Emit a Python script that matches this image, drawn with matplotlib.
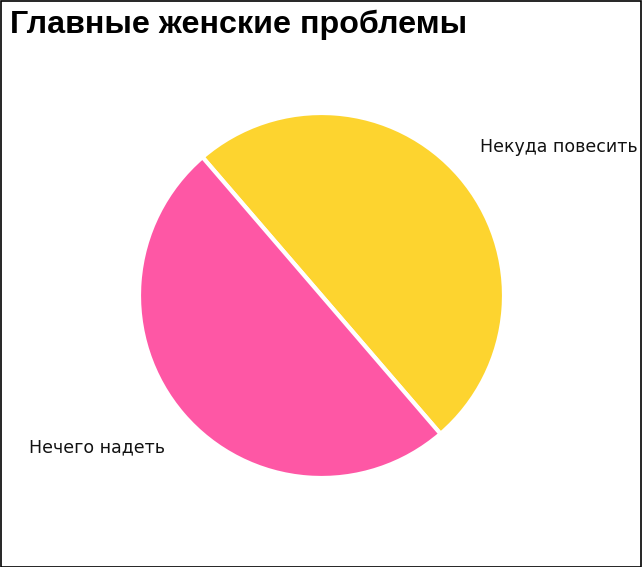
import matplotlib
matplotlib.use("Agg")
import matplotlib.pyplot as plt
from matplotlib.patches import Rectangle

title = "Главные женские проблемы"
categories = ["Некуда повесить", "Нечего надеть"]
values = [50, 50]
colors = ["#FDD42F", "#FE57A5"]

W, H = 642, 567
fig = plt.figure(figsize=(W / 100, H / 100), dpi=100)
fig.patch.set_facecolor("white")

cx, cy, R = 321.5, 295.5, 182.5
ax = fig.add_axes([(cx - R) / W, 1 - (cy + R) / H, 2 * R / W, 2 * R / H])
ax.pie(values, colors=colors, startangle=-49.3, counterclock=True,
       wedgeprops=dict(edgecolor="white", linewidth=3))
ax.set_xlim(-1, 1)
ax.set_ylim(-1, 1)
ax.set_aspect("equal")
ax.axis("off")

fig.text(10 / W, 1 - 33 / H, title, fontsize=23.2, fontweight="bold",
         family="Liberation Sans", va="baseline", ha="left")

label_pos = [(480, 152), (29, 452)]
for (px, py), lab in zip(label_pos, categories):
    fig.text(px / W, 1 - py / H, lab, fontsize=12.5, family="DejaVu Sans",
             va="baseline", ha="left", color="#111111")

fig.add_artist(Rectangle((0.5 / W, 0.5 / H), 1 - 1.5 / W, 1 - 1.5 / H,
                         transform=fig.transFigure, fill=False,
                         edgecolor="black", linewidth=1.2))

fig.savefig("out.png", dpi=100)
